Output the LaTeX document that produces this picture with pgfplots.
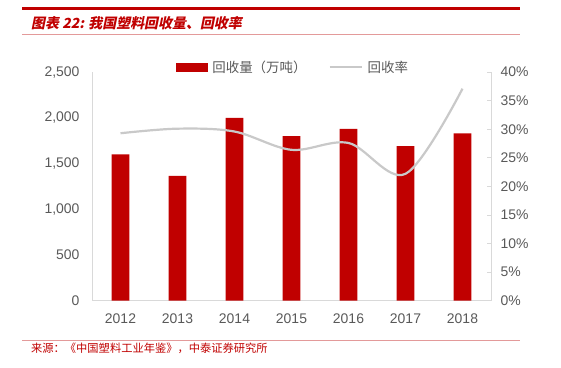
\documentclass[border=0pt]{standalone}
\usepackage{fontspec}
\setmainfont{Liberation Sans}
\newfontfamily\cjk{Noto Sans CJK SC}
\newfontfamily\cjkt[FakeSlant=0.2]{Noto Sans CJK SC}
\usepackage{pgfplots}
\pgfplotsset{compat=1.18}
\definecolor{barred}{HTML}{C00000}
\definecolor{linegray}{HTML}{C9C9C9}
\definecolor{txtgray}{HTML}{595959}
\definecolor{axgray}{HTML}{D9D9D9}
\definecolor{lightred}{HTML}{E39A9A}
\begin{document}
\begin{tikzpicture}
\useasboundingbox (0bp,0bp) rectangle (561bp,368bp);
% header
\fill[barred] (22bp,357.8bp) rectangle (520bp,360.6bp);
\node[anchor=west, inner sep=0pt, text=barred] at (31bp,345bp) {\cjkt\bfseries\fontsize{14}{16}\selectfont 图表 22: 我国塑料回收量、回收率};
\draw[lightred, line width=0.8bp] (22bp,333.3bp) -- (520bp,333.3bp);
% footer
\draw[lightred, line width=0.8bp] (22bp,28bp) -- (520bp,28bp);
\node[anchor=west, inner sep=0pt, text=barred] at (31bp,19.5bp) {\cjk\fontsize{11.3}{13}\selectfont 来源：《中国塑料工业年鉴》，中泰证券研究所};

\begin{axis}[
  at={(92bp,67.3bp)}, anchor=south west,
  scale only axis, width=399bp, height=228.6bp,
  xmin=-0.5, xmax=6.5, ymin=0, ymax=2500,
  axis x line*=bottom, axis y line*=left,
  axis line style={draw=axgray, line width=0.8bp},
  xtick={0,...,6},
  xticklabels={2012,2013,2014,2015,2016,2017,2018},
  ytick={0,500,...,2500},
  ticklabel style={font=\fontsize{14}{16}\selectfont, text=txtgray},
  /pgf/number format/assume math mode=true,
  /pgf/number format/.cd, 1000 sep={,}, /pgfplots/.cd,
  xtick style={draw=none},
  ytick style={draw=none},
  yticklabel style={xshift=-9bp},
  xticklabel style={yshift=-5.5bp},
  ybar, bar width=17.7bp,
]
\addplot[fill=barred, draw=none] coordinates {(0,1600) (1,1365) (2,2000) (3,1800) (4,1880) (5,1690) (6,1830)};
\end{axis}

\begin{axis}[
  at={(92bp,67.3bp)}, anchor=south west,
  scale only axis, width=399bp, height=228.6bp,
  xmin=-0.5, xmax=6.5, ymin=0, ymax=40,
  axis x line=none, axis y line*=right,
  axis line style={draw=axgray, line width=0.8bp},
  ytick={0,5,...,40},
  yticklabel={\pgfmathprintnumber{\tick}\%},
  ticklabel style={font=\fontsize{14}{16}\selectfont, text=txtgray},
  /pgf/number format/assume math mode=true,
  ytick style={draw=axgray, line width=0.8bp},
  tick align=inside, major tick length=4bp,
  yticklabel style={xshift=6bp},
  legend columns=2,
  legend style={at={(0.21,1.022)}, anchor=west, draw=none, fill=none,
    font=\cjk\fontsize{13.5}{15}\selectfont, text=txtgray,
    inner xsep=0pt, inner ysep=0pt,
    /tikz/every odd column/.append style={column sep=3bp},
    /tikz/every even column/.append style={column sep=20bp}},
]
\addlegendimage{legend image code/.code={\fill[barred] (0bp,-4bp) rectangle (31bp,4bp);}}
\addlegendentry{回收量（万吨）}
\addplot[linegray, line width=2.2bp, smooth, tension=0.55,
  legend image code/.code={\draw[linegray, line width=2.2bp] (0bp,0bp) -- (32bp,0bp);}]
  coordinates {(0,29.3) (1,30.1) (2,29.6) (3,26.4) (4,27.6) (5,22.2) (6,37.1)};
\addlegendentry{回收率}
\end{axis}
\end{tikzpicture}
\end{document}
